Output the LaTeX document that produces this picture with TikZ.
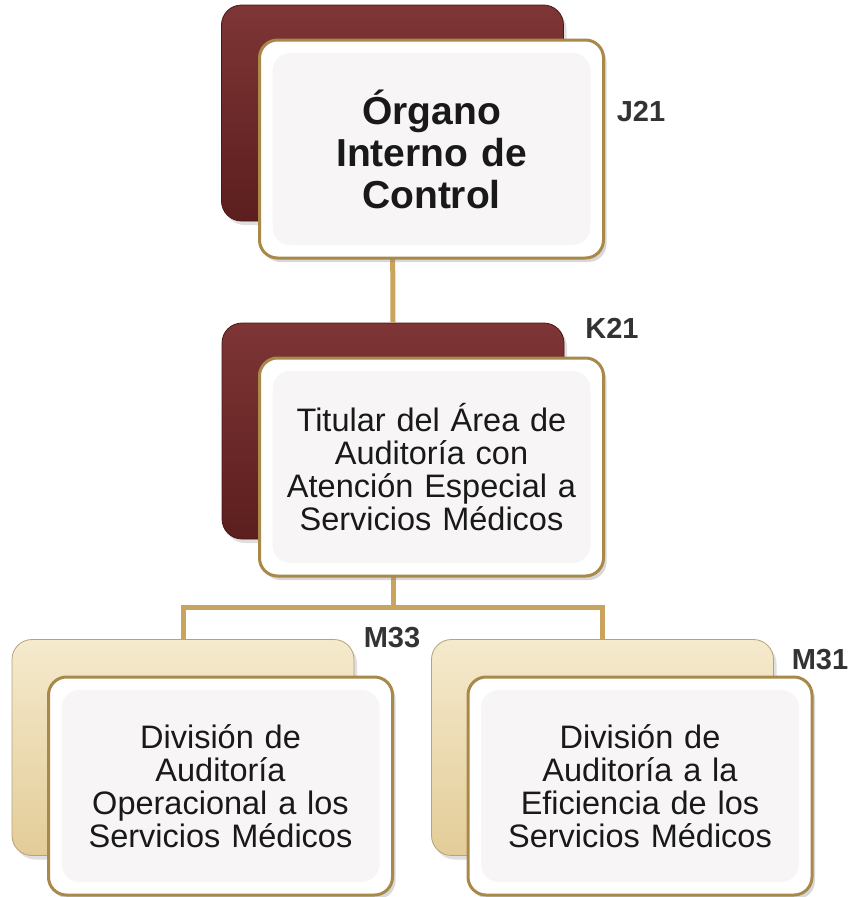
\documentclass[tikz,border=0pt]{standalone}
\usepackage{fontspec}
\setmainfont{Liberation Sans}
\usetikzlibrary{shadows}
\definecolor{wine}{HTML}{5C1E1E}
\definecolor{winelight}{HTML}{7E3535}
\definecolor{sand}{HTML}{E3CC98}
\definecolor{sandlight}{HTML}{F5EACD}
\definecolor{frame}{HTML}{A8894A}
\definecolor{bus}{HTML}{C9A45C}
\definecolor{panel}{HTML}{F7F5F5}
\definecolor{codegray}{HTML}{333333}
\tikzset{
  backbox/.style={rounded corners=20pt, minimum width=342pt, minimum height=216pt,
    draw=#1!80!black, line width=0.8pt, drop shadow={opacity=0.25, shadow xshift=3pt, shadow yshift=-4pt}},
  winebox/.style={backbox=wine, top color=winelight, bottom color=wine},
  sandbox/.style={backbox=sand, top color=sandlight, bottom color=sand},
  frontbox/.style={rounded corners=18pt, minimum width=344pt, minimum height=218pt,
    draw=frame, line width=3pt, fill=white, align=center, text width=330pt,
    text=black!90, drop shadow={opacity=0.3, shadow xshift=3pt, shadow yshift=-4pt},
    path picture={\fill[panel] ([shift={(13pt,13pt)}]path picture bounding box.south west)
      rectangle ([shift={(-13pt,-13pt)}]path picture bounding box.north east);}},
  code/.style={font=\fontsize{29}{29}\selectfont\bfseries, text=codegray},
  link/.style={draw=bus, line width=5pt}
}
\begin{document}
\begin{tikzpicture}[x=1pt,y=-1pt]
  \useasboundingbox[fill=white] (0,0) rectangle (852,897);
  \def\body{\fontsize{32.5}{33}\selectfont}
  % back plates
  \node[winebox] (topback) at (392.5,113) {};
  \node[winebox] (midback) at (393,431) {};
  \node[sandbox] (leftback) at (183,747.5) {};
  \node[sandbox] (rightback) at (602.5,747.5) {};
  % connectors sit behind the front plates
  \coordinate (split) at (393,607);
  \draw[link] (topback.south) -- (midback.north);
  \draw[link] (midback.south) -- (split) -| (leftback.north);
  \draw[link] (split) -| (rightback.north);
  % front plates
  \node[frontbox, font=\fontsize{39}{42}\selectfont\bfseries] (oic) at (431.5,149)
    {Órgano\\Interno de\\Control};
  \node[frontbox, font=\body] (titular) at (431.5,467)
    {Titular del Área de\\Auditoría con\\Atención Especial a\\Servicios Médicos};
  \node[frontbox, font=\body] (operacional) at (220.5,786)
    {División de\\Auditoría\\Operacional a los\\Servicios Médicos};
  \node[frontbox, font=\body] (eficiencia) at (640,786)
    {División de\\Auditoría a la\\Eficiencia de los\\Servicios Médicos};
  % unit codes
  \node[code] (jcode) at (641,112) {J21};
  \node[code] (kcode) at (612,328) {K21};
  \node[code] (mleft) at (392,638) {M33};
  \node[code] (mright) at (820,660) {M31};
\end{tikzpicture}
\end{document}
